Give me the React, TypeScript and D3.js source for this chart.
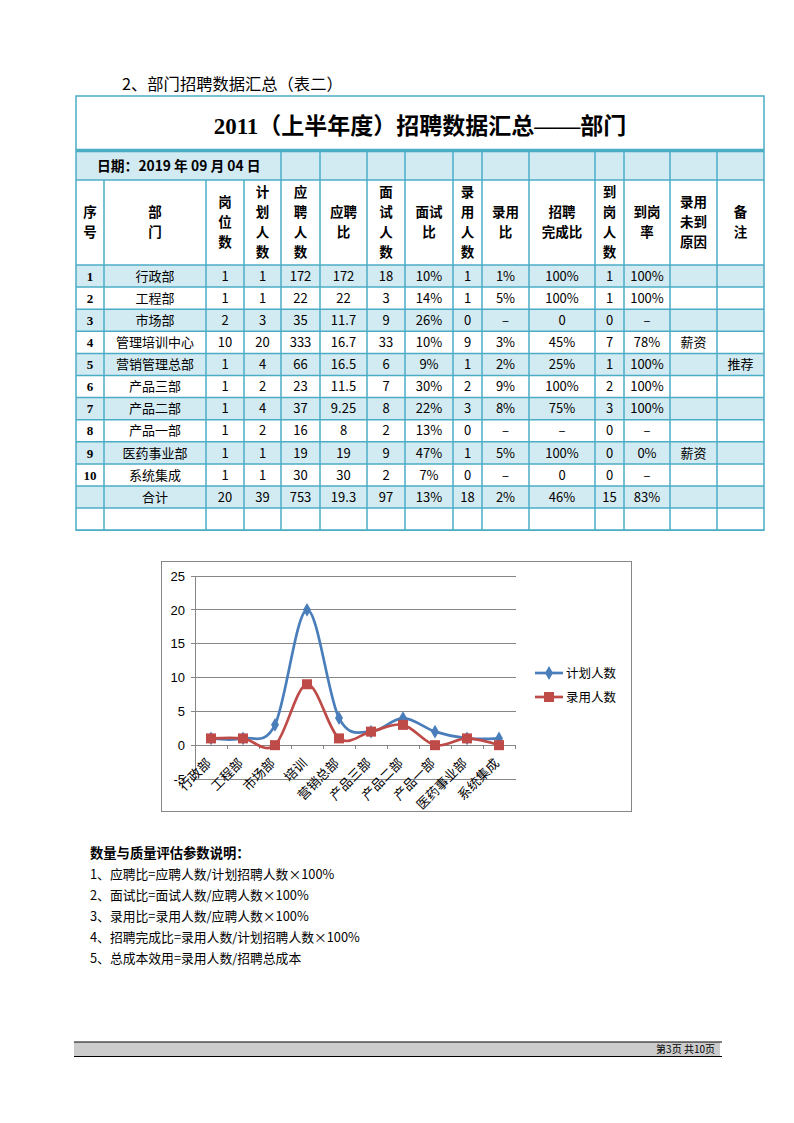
import React from "react";
import * as d3 from "d3";

// ---------- data ----------
const departments = ["行政部", "工程部", "市场部", "管理培训中心", "营销管理总部", "产品三部", "产品二部", "产品一部", "医药事业部", "系统集成"];
const chartLabels = ["行政部", "工程部", "市场部", "培训", "营销总部", "产品三部", "产品二部", "产品一部", "医药事业部", "系统集成"];
const posts = [1, 1, 2, 10, 1, 1, 1, 1, 1, 1];
const planned = [1, 1, 3, 20, 4, 2, 4, 2, 1, 1];
const applicants = [172, 22, 35, 333, 66, 23, 37, 16, 19, 30];
const applyRatio = ["172", "22", "11.7", "16.7", "16.5", "11.5", "9.25", "8", "19", "30"];
const interviews = [18, 3, 9, 33, 6, 7, 8, 2, 9, 2];
const interviewRatio = ["10%", "14%", "26%", "10%", "9%", "30%", "22%", "13%", "47%", "7%"];
const hired = [1, 1, 0, 9, 1, 2, 3, 0, 1, 0];
const hireRatio = ["1%", "5%", "–", "3%", "2%", "9%", "8%", "–", "5%", "–"];
const completion = ["100%", "100%", "0", "45%", "25%", "100%", "75%", "–", "100%", "0"];
const arrived = [1, 1, 0, 7, 1, 2, 3, 0, 0, 0];
const arriveRate = ["100%", "100%", "–", "78%", "100%", "100%", "100%", "–", "0%", "–"];
const reasons = ["", "", "", "薪资", "", "", "", "", "薪资", ""];
const remarks = ["", "", "", "", "推荐", "", "", "", "", ""];
const totals = ["", "合计", "20", "39", "753", "19.3", "97", "13%", "18", "2%", "46%", "15", "83%", "", ""];

const headerLines = [["序", "号"], ["部", "门"], ["岗", "位", "数"], ["计", "划", "人", "数"], ["应", "聘", "人", "数"], ["应聘", "比"], ["面", "试", "人", "数"], ["面试", "比"], ["录", "用", "人", "数"], ["录用", "比"], ["招聘", "完成比"], ["到", "岗", "人", "数"], ["到岗", "率"], ["录用", "未到", "原因"], ["备", "注"]];

const yTicks = [-5, 0, 5, 10, 15, 20, 25];
const seriesNames = ["计划人数", "录用人数"];

const notes = ["1、应聘比=应聘人数/计划招聘人数×100%", "2、面试比=面试人数/应聘人数×100%", "3、录用比=录用人数/应聘人数×100%", "4、招聘完成比=录用人数/计划招聘人数×100%", "5、总成本效用=录用人数/招聘总成本"];

// ---------- layout ----------
const colX = [76, 104, 206, 244, 281, 320, 367, 405, 453, 482, 529, 595, 624, 670, 717, 764];
const TL = 76, TR = 764;
const titleTop = 96, dateTop = 151, headTop = 180, bodyTop = 265, rowH = 22.1;
const LINE = "#4BACC6";
const FILL = "#D2EAF1";
const CJK = "'Noto Sans CJK SC', 'Noto Sans', sans-serif";

const BLUE = "#4A7EBB";
const RED = "#BE4B48";

export default function App() {
  const rows: string[][] = departments.map((d, i) => [
    String(i + 1), d, String(posts[i]), String(planned[i]), String(applicants[i]), applyRatio[i],
    String(interviews[i]), interviewRatio[i], String(hired[i]), hireRatio[i], completion[i],
    String(arrived[i]), arriveRate[i], reasons[i], remarks[i],
  ]);
  rows.push(totals);
  rows.push(new Array(15).fill(""));
  const tableBottom = bodyTop + rows.length * rowH;

  // chart scales
  const x = d3.scaleBand<string>().domain(chartLabels).range([195, 515]);
  const y = d3.scaleLinear().domain([-5, 25]).range([779, 576]);
  const cx = (i: number) => (x(chartLabels[i]) as number) + x.bandwidth() / 2;
  const line = d3.line<number>().x((_, i) => cx(i)).y((v) => y(v)).curve(d3.curveCardinal.tension(0));
  const diamond = d3.symbol().type(d3.symbolDiamond).size(55)();

  return (
    <svg width={794} height={1123} style={{ position: "absolute", left: 0, top: 0, background: "#fff" }} fontFamily={CJK}>
      {/* section heading */}
      <text x={122} y={90} fontSize={16.3} fill="#000">2、部门招聘数据汇总（表二）</text>

      {/* table backgrounds */}
      <rect x={TL} y={dateTop} width={TR - TL} height={headTop - dateTop} fill={FILL} />
      {rows.map((r, i) => (i % 2 === 0 && i !== 11 ? (
        <rect key={"bg" + i} x={TL} y={bodyTop + i * rowH} width={TR - TL} height={rowH} fill={FILL} />
      ) : null))}

      {/* title */}
      <text x={420} y={134} textAnchor="middle" fontSize={23} fontWeight="bold" fontFamily={"'Liberation Serif', 'Noto Sans CJK SC', serif"} fill="#000">2011（上半年度）招聘数据汇总——部门</text>

      {/* date */}
      <text x={97} y={171} fontSize={13.8} fontWeight="bold" fill="#000">日期：2019 年 09 月 04 日</text>

      {/* header */}
      {headerLines.map((lines, c) => {
        const mid = (colX[c] + colX[c + 1]) / 2;
        const n = lines.length;
        return lines.map((t, k) => (
          <text key={"h" + c + k} x={mid} y={222.5 + (k - (n - 1) / 2) * 20} dy="0.35em" textAnchor="middle" fontSize={13.5} fontWeight="bold" fill="#000">{t}</text>
        ));
      })}

      {/* body */}
      {rows.map((r, i) => r.map((t, c) => t === "" ? null : (
        <text key={"c" + i + "-" + c} x={(colX[c] + colX[c + 1]) / 2} y={bodyTop + i * rowH + rowH / 2} dy="0.36em" textAnchor="middle"
          fontSize={13} fontWeight={c === 0 ? "bold" : "normal"}
          fontFamily={c === 0 ? "'Liberation Serif', serif" : CJK} fill="#000">{t}</text>
      )))}

      {/* grid lines */}
      <g stroke={LINE} strokeWidth={1.5} fill="none">
        <rect x={TL} y={titleTop} width={TR - TL} height={tableBottom - titleTop} />
        <line x1={TL} x2={TR} y1={headTop} y2={headTop} />
        <line x1={TL} x2={TR} y1={bodyTop} y2={bodyTop} />
        {rows.map((_, i) => (
          <line key={"hl" + i} x1={TL} x2={TR} y1={bodyTop + (i + 1) * rowH} y2={bodyTop + (i + 1) * rowH} />
        ))}
        {colX.slice(1, -1).map((cxv, j) => (
          <line key={"vl" + j} x1={cxv} x2={cxv} y1={cxv < 281 ? headTop : dateTop} y2={tableBottom} />
        ))}
        <line x1={TL} x2={TR} y1={dateTop - 0.5} y2={dateTop - 0.5} strokeWidth={3.5} />
      </g>

      {/* chart */}
      <rect x={161.5} y={561.5} width={470} height={250} fill="#fff" stroke="#868686" strokeWidth={1} />
      <g stroke="#868686" strokeWidth={1} shapeRendering="crispEdges">
        {yTicks.map((t) => (
          <line key={"g" + t} x1={191} x2={516} y1={y(t)} y2={y(t)} />
        ))}
        <line x1={195} x2={195} y1={y(25)} y2={y(-5)} />
        {d3.range(chartLabels.length + 1).map((k) => (
          <line key={"xt" + k} x1={195 + k * x.step()} x2={195 + k * x.step()} y1={y(0)} y2={y(0) + 4} />
        ))}
      </g>
      {yTicks.map((t) => (
        <text key={"yl" + t} x={185} y={y(t)} dy="0.36em" textAnchor="end" fontSize={13} fontFamily="'Liberation Sans', sans-serif" fill="#000">{t}</text>
      ))}
      {chartLabels.map((l, i) => (
        <text key={"xl" + i} transform={`translate(${cx(i) + 1},${y(0) + 19}) rotate(-45)`} textAnchor="end" fontSize={13} fill="#000">{l}</text>
      ))}

      <path d={line(planned) as string} fill="none" stroke={BLUE} strokeWidth={2.7} />
      <path d={line(hired) as string} fill="none" stroke={RED} strokeWidth={2.7} />
      {planned.map((v, i) => (
        <path key={"pm" + i} d={diamond as string} transform={`translate(${cx(i)},${y(v)})`} fill={BLUE} />
      ))}
      {hired.map((v, i) => (
        <rect key={"hm" + i} x={cx(i) - 5} y={y(v) - 5} width={10} height={10} fill={RED} />
      ))}

      {/* legend */}
      <line x1={535} x2={563} y1={673} y2={673} stroke={BLUE} strokeWidth={2.7} />
      <path d={diamond as string} transform="translate(549,673)" fill={BLUE} />
      <text x={566} y={673} dy="0.36em" fontSize={12.5} fill="#000">{seriesNames[0]}</text>
      <line x1={535} x2={563} y1={697} y2={697} stroke={RED} strokeWidth={2.7} />
      <rect x={544} y={692} width={10} height={10} fill={RED} />
      <text x={566} y={697} dy="0.36em" fontSize={12.5} fill="#000">{seriesNames[1]}</text>

      {/* notes */}
      <text x={90} y={853} dy="0.36em" fontSize={13.3} fontWeight="bold" fill="#000">数量与质量评估参数说明：</text>
      {notes.map((n, i) => (
        <text key={"n" + i} x={90} y={874 + i * 21} dy="0.36em" fontSize={12.8} fill="#000">{n}</text>
      ))}

      {/* footer */}
      <rect x={74} y={1042} width={646} height={14} fill="#CCCCCC" />
      <line x1={74} x2={722} y1={1042} y2={1042} stroke="#000" strokeWidth={1} />
      <line x1={74} x2={722} y1={1056.5} y2={1056.5} stroke="#000" strokeWidth={1} />
      <text x={715} y={1049} dy="0.36em" textAnchor="end" fontSize={10} fill="#000">第3页 共10页</text>
    </svg>
  );
}
